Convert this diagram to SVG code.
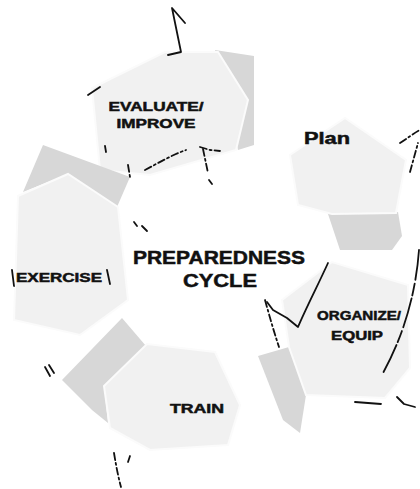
<svg xmlns="http://www.w3.org/2000/svg" width="420" height="489" viewBox="0 0 420 489">
<style>
.lt{fill:#f1f1f1;stroke:#fbfbfb;stroke-width:2}
.dk{fill:#d7d7d7}
.tx{font-family:"Liberation Sans",Arial,sans-serif;font-weight:bold;fill:#111;text-anchor:middle;stroke:#111;stroke-width:0.5}
.ln{fill:none;stroke:#111;stroke-width:1.8;stroke-linecap:round;stroke-linejoin:round}
.ds{stroke-dasharray:7 3 2 3}
</style>
<rect width="420" height="489" fill="#ffffff"/>
<g id="evaluate">
<polygon class="dk" points="215,50 254,56 254,145 238,150"/>
<polygon class="lt" points="92,88 165,52 218,52 248,100 236,150 150,175 100,170"/>
<text class="tx" x="156" y="111" font-size="13" textLength="95" lengthAdjust="spacingAndGlyphs">EVALUATE/</text>
<text class="tx" x="156" y="128" font-size="13" textLength="79" lengthAdjust="spacingAndGlyphs">IMPROVE</text>
</g>
<g id="plan">
<polygon class="dk" points="328,214 398,212 402,236 392,250 340,250"/>
<polygon class="lt" points="290,155 345,118 406,160 396,213 332,214 298,205"/>
<text class="tx" x="327" y="144" font-size="16" textLength="46" lengthAdjust="spacingAndGlyphs" stroke-width="0.2">Plan</text>
</g>
<g id="organize">
<polygon class="dk" points="258,356 289,347 306,395 300,433 283,420"/>
<polygon class="lt" points="282,300 332,262 408,285 410,368 385,398 306,395 289,347"/>
<text class="tx" x="359" y="320" font-size="13" textLength="84" lengthAdjust="spacingAndGlyphs">ORGANIZE/</text>
<text class="tx" x="357" y="340" font-size="13" textLength="52" lengthAdjust="spacingAndGlyphs">EQUIP</text>
</g>
<g id="train">
<polygon class="dk" points="62,380 122,318 146,346 104,386 108,423 92,410"/>
<polygon class="lt" points="104,386 147,344 215,352 240,405 228,445 150,450 110,428"/>
<text class="tx" x="197" y="413" font-size="13" textLength="54" lengthAdjust="spacingAndGlyphs">TRAIN</text>
</g>
<g id="exercise">
<polygon class="dk" points="23,192 43,145 130,177 117,207 68,174"/>
<polygon class="lt" points="18,196 68,174 118,207 128,300 80,335 14,320"/>
<text class="tx" x="59" y="282" font-size="13" textLength="86" lengthAdjust="spacingAndGlyphs">EXERCISE</text>
</g>
<g id="center">
<text class="tx" x="219" y="264" font-size="19" textLength="172" lengthAdjust="spacingAndGlyphs">PREPAREDNESS</text>
<text class="tx" x="220" y="287" font-size="19" textLength="74" lengthAdjust="spacingAndGlyphs">CYCLE</text>
</g>
<g id="connectors">
<path class="ln" d="M185,23 L172,8 L181,52 L168,55"/>
<path class="ln" d="M88,95 L100,87"/>
<path class="ln" d="M105,146 L106,152"/>
<path class="ln ds" d="M128,165 L130,177"/>
<path class="ln ds" d="M145,170 C160,162 172,155 186,150"/>
<path class="ln ds" d="M200,147 L210,150 L220,151"/>
<path class="ln ds" d="M203,149 L208,173"/>
<path class="ln" d="M209,180 L212,184"/>
<path class="ln" d="M134,222 L137,226 M142,226 L147,231"/>
<path class="ln ds" d="M400,143 C408,138 414,133 420,130"/>
<path class="ln ds" d="M410,172 L418,143"/>
<path class="ln" d="M419,250 C416,292 404,335 383,373" stroke-dasharray="30 4 12 3"/>
<path class="ln" d="M328,263 C318,285 306,308 298,327 L287,318 L273,310 L267,302"/>
<path class="ln ds" d="M265,300 C270,318 274,332 279,347"/>
<path class="ln" d="M355,402 L381,404"/>
<path class="ln" d="M397,397 L404,404 L415,407"/>
<path class="ln" d="M45,367 L50,376 M49,365 L54,373"/>
<path class="ln ds" d="M114,453 C116,465 118,476 121,487"/>
<path class="ln" d="M130,456 L128,462"/>
<path class="ln" d="M12,270 L14,286"/>
<path class="ln" d="M107,270 L110,284"/>
</g>
</svg>
